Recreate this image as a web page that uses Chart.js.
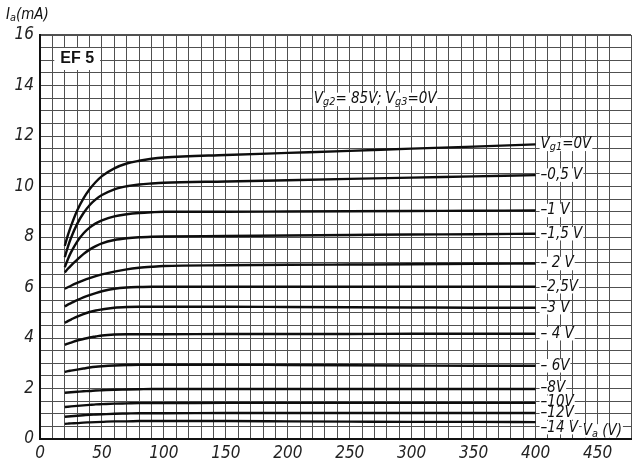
<!DOCTYPE html>
<html>
<head>
<meta charset="utf-8">
<script src="https://cdn.jsdelivr.net/npm/chart.js@4/dist/chart.umd.min.js"></script>
<style>
  body { margin: 0; background: #fff; }
</style>
</head>
<body>
<canvas id="grafico" width="635" height="462"></canvas>
<script>
// anode voltage (V) where the curves were read
const va = [20, 22.5, 25, 30, 35, 40, 45, 50, 60, 70, 80, 90, 100, 150, 200, 250, 300, 350, 400];

// anode current (mA) per grid-1 voltage
const ia0  = [7.65, 8.07, 8.43, 9.05, 9.52, 9.89, 10.18, 10.41, 10.72, 10.91, 11.02, 11.1, 11.15, 11.25, 11.33, 11.41, 11.5, 11.58, 11.67];
const ia05 = [7.2, 7.61, 7.96, 8.52, 8.94, 9.26, 9.49, 9.66, 9.89, 10.01, 10.08, 10.12, 10.15, 10.2, 10.25, 10.3, 10.35, 10.4, 10.45];
const ia1  = [6.8, 7.12, 7.39, 7.82, 8.14, 8.37, 8.54, 8.66, 8.82, 8.9, 8.95, 8.98, 9.0, 9.0, 9.01, 9.02, 9.03, 9.04, 9.05];
const ia15 = [6.6, 6.74, 6.87, 7.1, 7.32, 7.5, 7.64, 7.75, 7.88, 7.95, 7.99, 8.01, 8.02, 8.04, 8.06, 8.08, 8.1, 8.11, 8.13];
const ia2  = [5.95, 6.01, 6.07, 6.18, 6.28, 6.37, 6.45, 6.52, 6.63, 6.72, 6.78, 6.82, 6.85, 6.88, 6.9, 6.91, 6.92, 6.94, 6.95];
const ia25 = [5.25, 5.32, 5.38, 5.5, 5.61, 5.7, 5.78, 5.85, 5.95, 6.0, 6.02, 6.03, 6.03, 6.03, 6.03, 6.03, 6.03, 6.03, 6.03];
const ia3  = [4.6, 4.67, 4.73, 4.85, 4.95, 5.03, 5.09, 5.13, 5.2, 5.23, 5.24, 5.24, 5.24, 5.24, 5.23, 5.22, 5.21, 5.2, 5.2];
const ia4  = [3.73, 3.78, 3.82, 3.9, 3.96, 4.02, 4.06, 4.1, 4.14, 4.15, 4.15, 4.15, 4.15, 4.16, 4.16, 4.16, 4.17, 4.17, 4.17];
const ia6  = [2.66, 2.69, 2.71, 2.75, 2.79, 2.83, 2.86, 2.88, 2.91, 2.93, 2.94, 2.94, 2.94, 2.94, 2.93, 2.92, 2.91, 2.9, 2.9];
const ia8  = [1.83, 1.84, 1.85, 1.87, 1.89, 1.9, 1.92, 1.93, 1.95, 1.96, 1.97, 1.98, 1.98, 1.98, 1.98, 1.98, 1.98, 1.98, 1.98];
const ia10 = [1.27, 1.28, 1.29, 1.31, 1.33, 1.35, 1.37, 1.38, 1.4, 1.41, 1.42, 1.42, 1.42, 1.43, 1.43, 1.43, 1.43, 1.43, 1.43];
const ia12 = [0.88, 0.89, 0.9, 0.92, 0.94, 0.96, 0.97, 0.98, 1.0, 1.01, 1.02, 1.02, 1.02, 1.03, 1.03, 1.03, 1.03, 1.03, 1.03];
const ia14 = [0.6, 0.61, 0.62, 0.63, 0.65, 0.66, 0.67, 0.68, 0.7, 0.7, 0.71, 0.71, 0.71, 0.71, 0.7, 0.69, 0.68, 0.68, 0.67];

const curvas = [ia0, ia05, ia1, ia15, ia2, ia25, ia3, ia4, ia6, ia8, ia10, ia12, ia14];
// curve labels: [main text, subscript, rest]
const etiquetas = [
  ['V', 'g1', '=0V'], ['–0,5 V'], ['–1 V'], ['–1,5 V'], ['– 2 V'], ['–2,5V'], ['–3 V'],
  ['– 4 V'], ['– 6V'], ['–8V'], ['–10V'], ['–12V'], ['–14 V']
];
// small vertical shift (mA) of some labels, as in the drawing
const ajusteEtiqueta = [0, 0, 0, 0, 0, 0, 0, 0, 0, 0.05, 0.03, 0, -0.22];

const ticksX = [0, 50, 100, 150, 200, 250, 300, 350, 400, 450];
const ticksY = [0, 2, 4, 6, 8, 10, 12, 14, 16];

const fuente = '"Liberation Sans Narrow", "DejaVu Sans Condensed", sans-serif';

// draws [text, isSub] pieces from x, centred on y
function textoConSub(ctx, partes, x, y, size, fondo) {
  let ancho = 0;
  partes.forEach(p => {
    ctx.font = 'italic ' + (p[1] ? size * 0.72 : size) + 'px ' + fuente;
    ancho += ctx.measureText(p[0]).width;
  });
  if (fondo) {
    ctx.fillStyle = '#fff';
    ctx.fillRect(x - 1, y - size * 0.45, ancho + 2, size * 0.9);
  }
  ctx.fillStyle = '#111';
  ctx.textBaseline = 'middle';
  ctx.textAlign = 'left';
  partes.forEach(p => {
    ctx.font = 'italic ' + (p[1] ? size * 0.72 : size) + 'px ' + fuente;
    ctx.fillText(p[0], x, p[1] ? y + size * 0.2 : y);
    x += ctx.measureText(p[0]).width;
  });
  return ancho;
}

const textos = {
  id: 'textos',
  afterDatasetsDraw(chart) {
    const ctx = chart.ctx;
    const sx = chart.scales.x, sy = chart.scales.y;
    ctx.save();
    curvas.forEach((c, i) => {
      const e = etiquetas[i];
      const partes = e.length === 3 ? [[e[0]], [e[1], true], [e[2]]] : [[e[0]]];
      const x = sx.getPixelForValue(va[va.length - 1]) + 5;
      const y = sy.getPixelForValue(c[c.length - 1] + ajusteEtiqueta[i]);
      textoConSub(ctx, partes, x, y, 15, true);
    });
    // EF 5
    ctx.font = 'bold 16px "Liberation Sans", Arial, sans-serif';
    const ef = 'EF 5';
    const w = ctx.measureText(ef).width;
    const ex = sx.getPixelForValue(30), ey = sy.getPixelForValue(15.05);
    ctx.fillStyle = '#fff';
    ctx.fillRect(ex - w / 2 - 6, ey - 11, w + 12, 22);
    ctx.fillStyle = '#111';
    ctx.textAlign = 'center';
    ctx.textBaseline = 'middle';
    ctx.fillText(ef, ex, ey);
    // screen and suppressor grid voltages
    textoConSub(ctx, [['V'], ['g2', true], ['= 85V; '], ['V'], ['g3', true], ['=0V']],
      sx.getPixelForValue(221), sy.getPixelForValue(13.45), 15, true);
    // axis titles
    textoConSub(ctx, [['V'], ['a', true], [' (V)']],
      sx.getPixelForValue(438), sy.getPixelForValue(0.32), 15, true);
    textoConSub(ctx, [['I'], ['a', true], ['(mA)']],
      chart.chartArea.left - 34, chart.chartArea.top - 20, 15, false);
    ctx.restore();
  }
};

const datasets = curvas.map(c => ({
  data: c.map((v, i) => ({ x: va[i], y: v })),
  borderColor: '#0d0d0d',
  borderWidth: 2.4,
  pointRadius: 0,
  cubicInterpolationMode: 'monotone',
  fill: false
}));

new Chart(document.getElementById('grafico'), {
  type: 'line',
  data: { datasets },
  options: {
    responsive: false,
    animation: false,
    devicePixelRatio: 1,
    layout: { padding: { top: 35, left: 0, right: 0, bottom: 0 } },
    plugins: { legend: { display: false }, tooltip: { enabled: false } },
    scales: {
      x: {
        type: 'linear',
        min: 0,
        max: 477,
        afterFit: s => { s.height = 23; },
        border: { color: '#111', width: 2 },
        grid: { color: '#505050', lineWidth: 1, drawTicks: false },
        ticks: {
          stepSize: 10,
          autoSkip: false,
          maxRotation: 0,
          padding: 4,
          color: '#222',
          font: { family: fuente, size: 17, style: 'italic' },
          callback: v => ticksX.includes(v) ? String(v) : ''
        }
      },
      y: {
        type: 'linear',
        min: 0,
        max: 16,
        afterFit: s => { s.width = 40; },
        border: { color: '#111', width: 2 },
        grid: {
          color: '#505050',
          lineWidth: c => (c.tick && c.tick.value === 16 ? 2 : 1),
          drawTicks: false
        },
        ticks: {
          stepSize: 0.5,
          autoSkip: false,
          padding: 6,
          color: '#222',
          font: { family: fuente, size: 17, style: 'italic' },
          callback: v => ticksY.includes(v) ? String(v) : ''
        }
      }
    }
  },
  plugins: [textos]
});
</script>
</body>
</html>
